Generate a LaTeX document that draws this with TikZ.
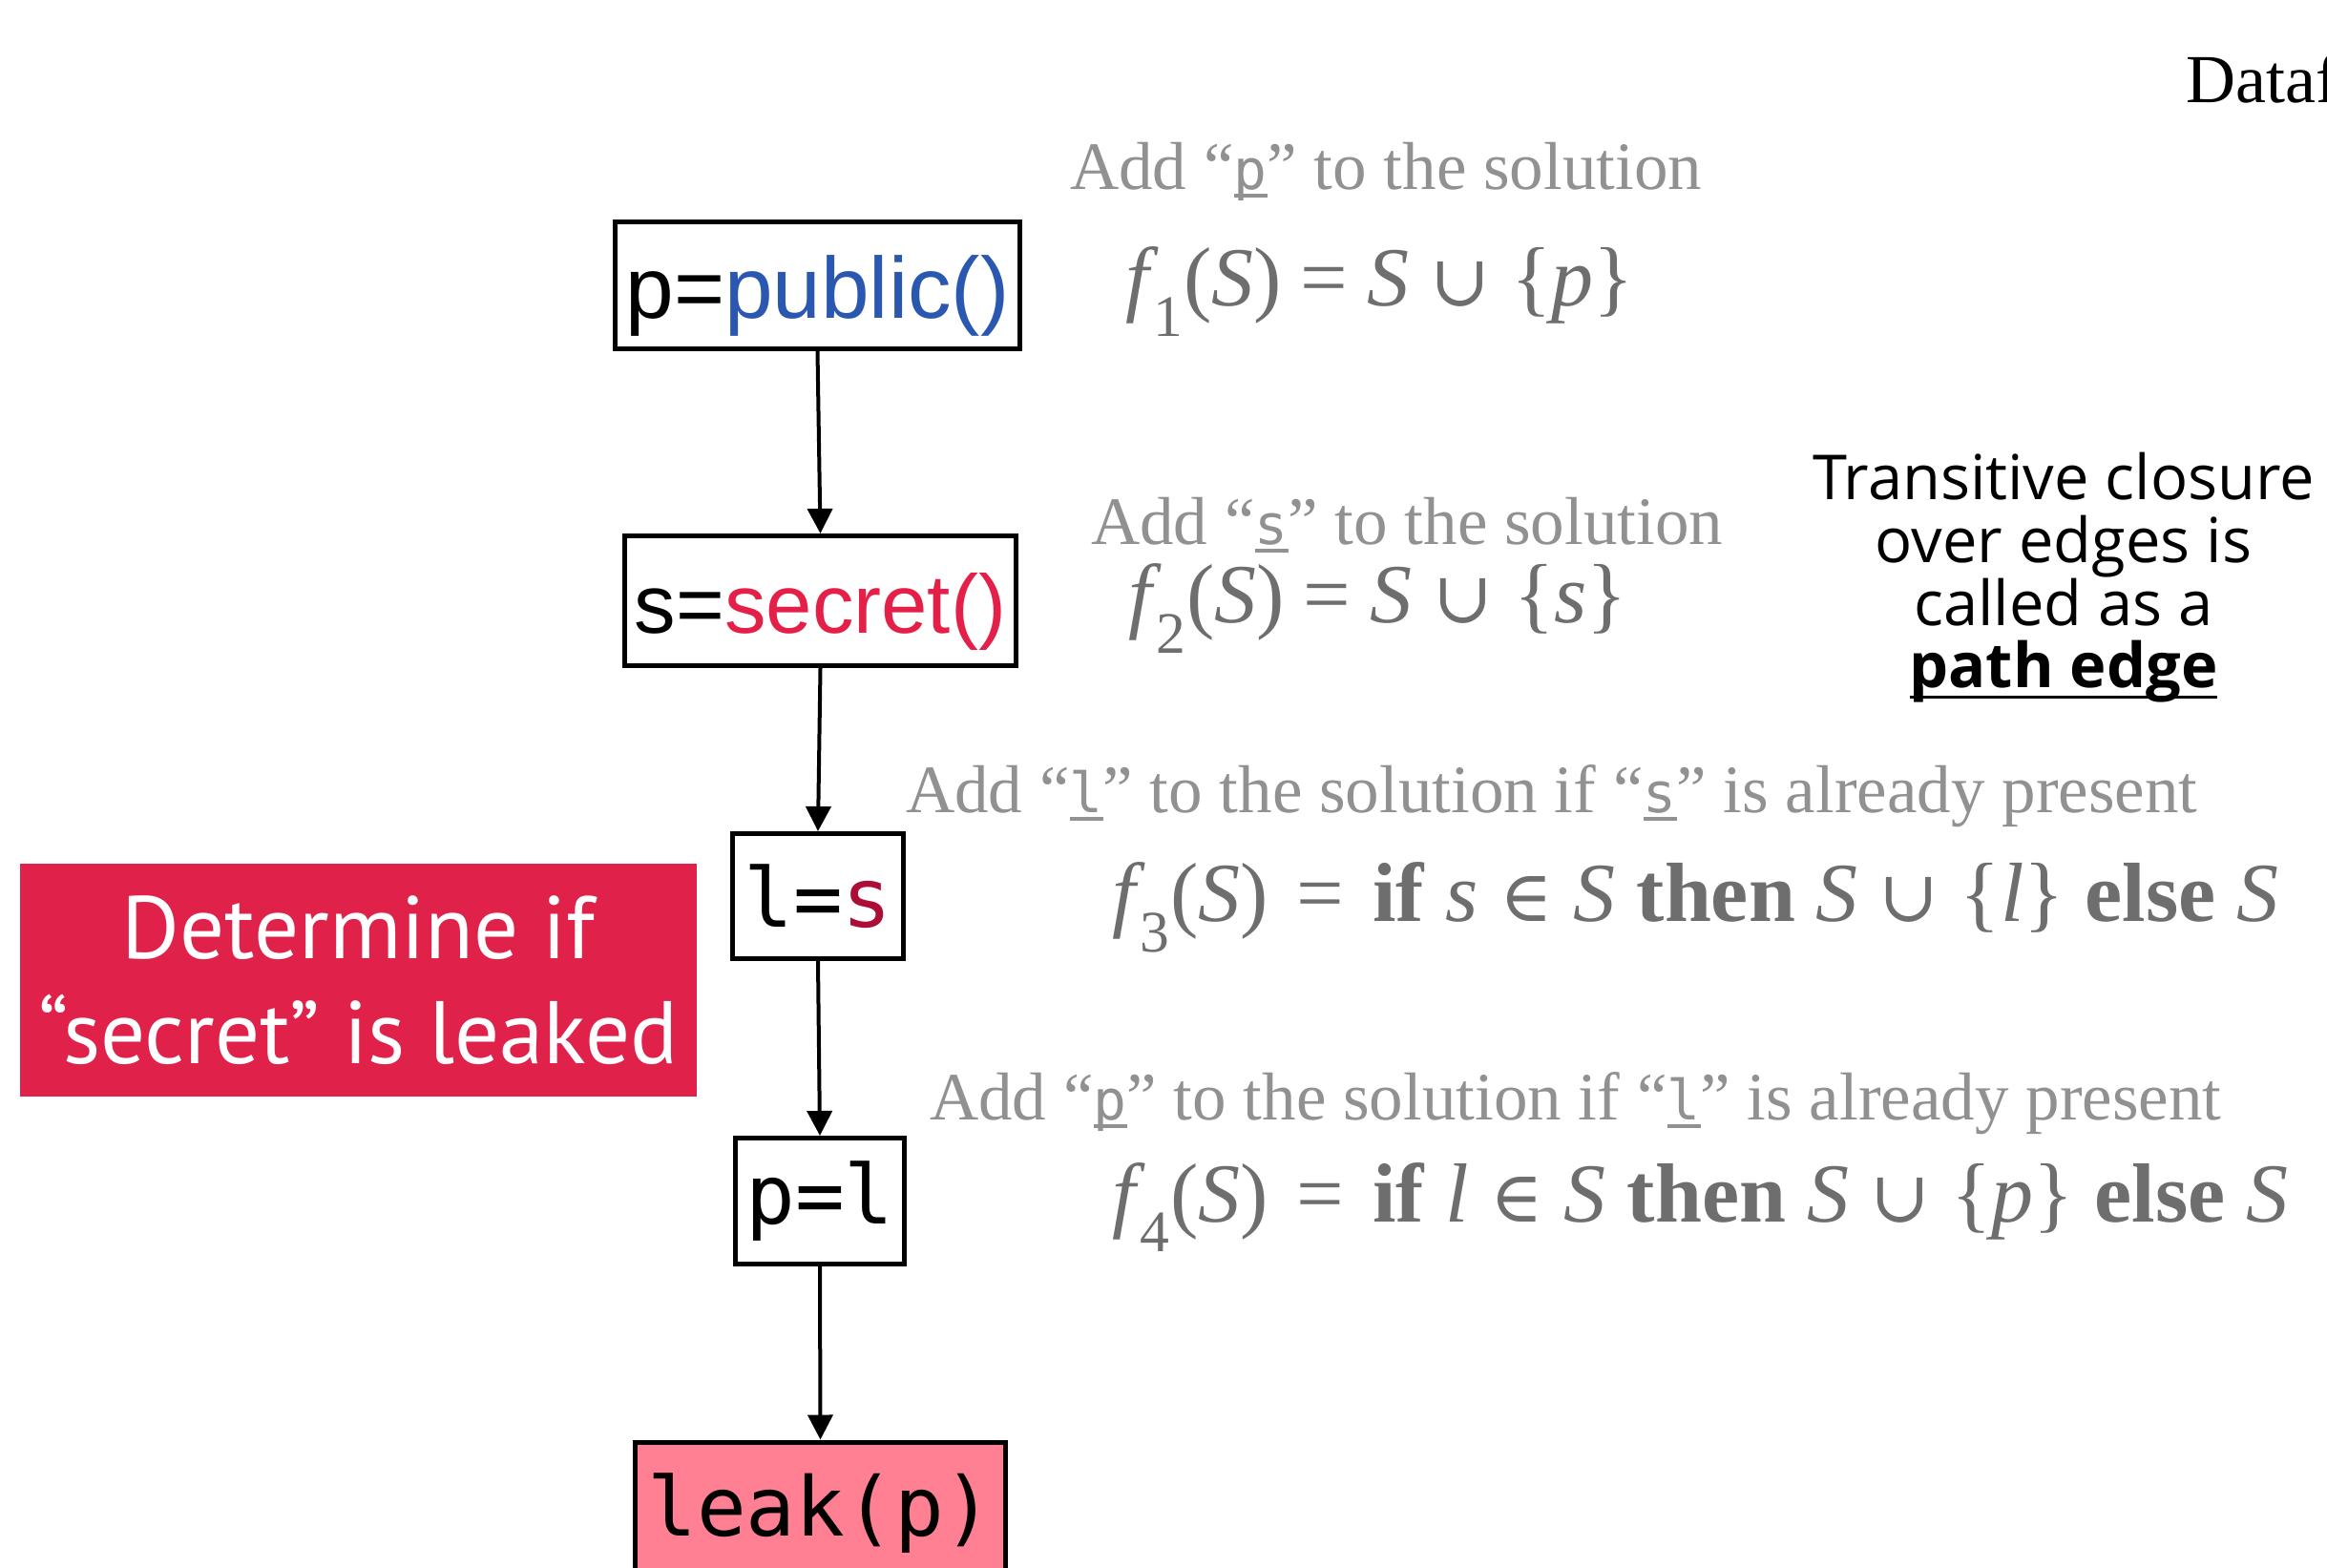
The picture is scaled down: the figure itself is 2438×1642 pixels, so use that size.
\documentclass[tikz,border=0pt]{standalone}
\usepackage{fontspec}
\setmainfont{Liberation Serif}
\newfontfamily\boxsans{Liberation Sans}
\newfontfamily\mono{DejaVu Sans Mono}
\newfontfamily\redsans{PT Sans}
\newfontfamily\notesans{Open Sans}
\newfontfamily\symserif{DejaVu Serif}
\usetikzlibrary{arrows.meta}
\definecolor{pubblue}{RGB}{42,88,176}
\definecolor{secred}{RGB}{228,32,72}
\definecolor{darkred}{RGB}{172,14,56}
\definecolor{redfill}{RGB}{224,34,74}
\definecolor{pinkfill}{RGB}{255,128,146}
\definecolor{notegray}{RGB}{145,145,145}
\definecolor{formgray}{RGB}{110,110,110}
\newcommand{\ulmono}[1]{\setbox0\hbox{\mono\fontsize{58}{58}\selectfont #1}\rlap{\rule[-9pt]{\wd0}{4pt}}\box0}
\newcommand{\ulbox}[1]{\setbox0\hbox{#1}\rlap{\rule[-12pt]{\wd0}{3.5pt}}\box0}
\newcommand{\fsym}[1]{{\symserif\fontsize{75}{75}\selectfont #1}}
\newcommand{\fx}[1]{\textit{f}\kern-5pt\textsubscript{#1}(\textit{S})}
\newcommand{\feq}[1]{\hspace{#1}=\hspace{#1}}
\newcommand{\shiftdown}[1]{\raisebox{-11pt}[\height][\depth]{#1}}
\begin{document}
\begin{tikzpicture}[x=1pt,y=-1pt,
  flowbox/.style={draw=black, line width=5pt, inner sep=0pt, rectangle},
  flowarrow/.style={line width=4pt, -{Triangle[width=26pt,length=26pt]}},
  addnote/.style={anchor=base west, inner sep=0pt, text=notegray, font=\fontsize{71}{71}\selectfont},
  formula/.style={anchor=base west, inner sep=0pt, text=formgray, font=\fontsize{88}{88}\selectfont},
  closure/.style={anchor=base, inner sep=0pt, font=\notesans\fontsize{65}{65}\selectfont},
  monolabel/.style={font=\mono\fontsize{86}{86}\selectfont}]
\useasboundingbox (0,0) rectangle (2438,1642);
\fill[white] (0,0) rectangle (2438,1642);

% flow boxes
\node[flowbox, font=\boxsans\fontsize{91}{91}\selectfont, minimum width=424pt, minimum height=133pt] (b1) at (856.5,299)
  {\shiftdown{p=\textcolor{pubblue}{public()}}};
\node[flowbox, font=\boxsans\fontsize{87}{87}\selectfont, minimum width=410pt, minimum height=136pt] (b2) at (859.5,629.5)
  {\shiftdown{s=\textcolor{secred}{secret()}}};
\node[flowbox, monolabel, minimum width=179pt, minimum height=131pt] (b3) at (857,939)
  {l=\textcolor{darkred}{s}};
\node[flowbox, monolabel, minimum width=177pt, minimum height=132pt] (b4) at (859,1258.5)
  {p=l};
\node[flowbox, monolabel, fill=pinkfill, minimum width=388pt, minimum height=150pt] (b5) at (859.5,1586)
  {leak(p)};

\draw[flowarrow] (b1.south) -- (b2.north);
\draw[flowarrow] (b2.south) -- (b3.north);
\draw[flowarrow] (b3.south) -- (b4.north);
\draw[flowarrow] (b4.south) -- (b5.north);

% red note
\node[fill=redfill, text=white, inner sep=0pt, minimum width=709pt, minimum height=244pt,
  align=center, font=\redsans\fontsize{93}{110}\selectfont] (goal) at (375.5,1027)
  {Determine if\\“secret” is leaked};

% descriptions
\node[addnote] (a1) at (1121,198) {Add “\ulmono{p}” to the solution};
\node[formula] (e1) at (1179,320) {\fx{1}\feq{20pt}\textit{S}\ \fsym{∪}\ \{\textit{p}\}};
\node[addnote] (a2) at (1143,570) {Add “\ulmono{s}” to the solution};
\node[formula] (e2) at (1182,652) {\fx{2}\feq{20pt}\textit{S}\ \fsym{∪}\ \{\textit{s}\}};
\node[addnote] (a3) at (949,851) {Add “\ulmono{l}” to the solution if “\ulmono{s}” is already present};
\node[formula] (e3) at (1165,965) {\fx{3}\feq{30pt}\textbf{if}\ \textit{s}\ \fsym{∈}\ \textit{S}\ \textbf{then}\ \textit{S}\ \fsym{∪}\ \{\textit{l}\}\ \textbf{else}\ \textit{S}};
\node[addnote] (a4) at (974,1173) {Add “\ulmono{p}” to the solution if “\ulmono{l}” is already present};
\node[formula] (e4) at (1165,1280) {\fx{4}\feq{30pt}\textbf{if}\ \textit{l}\ \fsym{∈}\ \textit{S}\ \textbf{then}\ \textit{S}\ \fsym{∪}\ \{\textit{p}\}\ \textbf{else}\ \textit{S}};

% side note
\node[closure] (t1) at (2162,523) {Transitive closure};
\node[closure] (t2) at (2162,589) {over edges is};
\node[closure] (t3) at (2162,655) {called as a};
\node[closure] (t4) at (2162,720) {\ulbox{\bfseries path edge}};

% title fragment
\node[anchor=base west, inner sep=0pt, font=\fontsize{72}{72}\selectfont] (title) at (2290,107) {Dataf};
\end{tikzpicture}
\end{document}
